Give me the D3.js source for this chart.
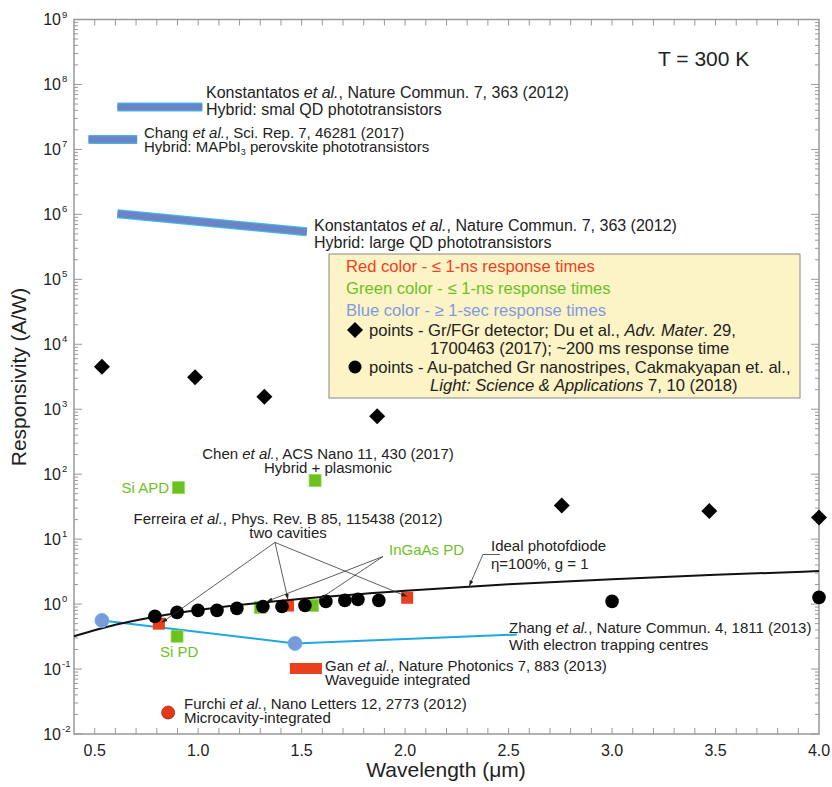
<!DOCTYPE html>
<html>
<meta charset="UTF-8" />
<script src="https://cdn.jsdelivr.net/npm/d3@7/dist/d3.min.js"></script>
<style>
*{margin:0; padding:0;}
body{background:#fff;}
svg text{font-family:Arial,"Liberation Sans",sans-serif; fill:#222;}
</style>
<body>
<div id="chart"></div>
<script>
// ---- data (wavelength in um, responsivity in A/W) ----
var xTickLabels = [0.5, 1.0, 1.5, 2.0, 2.5, 3.0, 3.5, 4.0];
var decades = [-2, -1, 0, 1, 2, 3, 4, 5, 6, 7, 8, 9];

// Du et al. Gr/FGr detector (diamonds)
var duLambda = [0.535, 0.985, 1.32, 1.865, 2.757, 3.47, 4.0];
var duResp   = [4500, 3100, 1550, 780, 33, 27, 21.5];

// Cakmakyapan et al. Au-patched Gr nanostripes (black circles)
var auLambda = [0.791, 0.898, 0.999, 1.091, 1.187, 1.313, 1.405, 1.516, 1.617, 1.709, 1.772, 1.873, 3.0, 4.0];
var auResp   = [0.647, 0.745, 0.80, 0.80, 0.86, 0.92, 0.92, 0.955, 1.10, 1.14, 1.18, 1.14, 1.10, 1.27];

// ideal photodiode, eta = 100 %, g = 1
var idealLambda = [0.4, 0.6, 0.8, 1.0, 1.5, 2.0, 2.5, 3.0, 3.5, 4.0];
var idealResp   = [0.32, 0.48, 0.645, 0.81, 1.21, 1.61, 2.02, 2.42, 2.82, 3.22];

// red squares: Ferreira two cavities
var redLambda = [0.81, 1.434, 2.01];
var redResp   = [0.50, 0.95, 1.25];

// green squares: Si APD, Chen hybrid plasmonic, Si PD, InGaAs PD x2
var greenLambda = [0.905, 1.565, 0.898, 1.30, 1.553];
var greenResp   = [62, 80, 0.32, 0.89, 0.95];

// Zhang et al. (blue circles + line)
var zhangLambda = [0.535, 1.468, 2.54];
var zhangResp   = [0.56, 0.248, 0.34];
var zhangDots   = [0, 1];

// Gan et al. waveguide (red bar)
var ganLambda = [1.443, 1.598];
var ganResp   = [0.102, 0.102];

// Furchi et al. microcavity (red circle)
var furchiLambda = [0.855];
var furchiResp   = [0.0214];

// hybrid phototransistors (blue bands)
var smallQdLambda = [0.61, 1.02];
var smallQdResp   = [4.5e7, 4.5e7];
var changLambda   = [0.47, 0.705];
var changResp     = [1.42e7, 1.42e7];
var largeQdLambda = [0.61, 1.525];
var largeQdResp   = [1.02e6, 5.4e5];

// annotation arrows (from, to) in data units
var ferreiraFrom = [1.371, 8.9];
var ferreiraTo   = [[0.825, 0.52], [1.434, 1.18], [2.009, 1.31]];
var ingaasFrom   = [1.893, 5.4];
var ingaasTo     = [[1.332, 1.1], [1.584, 1.18]];
var idealArrow   = [[2.458, 5.8], [2.376, 5.8], [2.31, 1.9]];

// ---- drawing ----
var W = 832, H = 787;
var svg = d3.select("#chart").append("svg").attr("width", W).attr("height", H);

var x = d3.scaleLinear().domain([0.4, 4.0]).range([74, 819]);
var y = d3.scaleLog().domain([1e-2, 1e9]).range([734, 19.5]);

var RED = "#e8401c", GREEN = "#6cc11e", BLUE = "#7b98d8", CYAN = "#1ea7e0";
var FRAME = "#999";

function pts(xs, ys){ return xs.map(function(v,i){ return [v, ys[i]]; }); }
var line = d3.line().x(function(d){return x(d[0]);}).y(function(d){return y(d[1]);});

// defs: arrow head
svg.append("defs").append("marker")
	.attr("id","arr").attr("viewBox","0 0 10 10").attr("refX",10).attr("refY",5)
	.attr("markerWidth",7).attr("markerHeight",7).attr("orient","auto")
	.append("path").attr("d","M0,1.5L10,5L0,8.5z").attr("fill","#222");

// axes ticks (inward)
var minorX = d3.range(5, 40).map(function(d){return d/10;});
var gAx = svg.append("g").attr("stroke", FRAME).attr("stroke-width", 1);
gAx.selectAll(".xb").data(minorX).enter().append("line")
	.attr("x1", x).attr("x2", x).attr("y1", 734).attr("y2", 728);
gAx.selectAll(".xt").data(minorX).enter().append("line")
	.attr("x1", x).attr("x2", x).attr("y1", 19.5).attr("y2", 25.5);

var minorY = [];
decades.forEach(function(e){
	if (e < 9) for (var m = 2; m <= 9; m++) minorY.push(m * Math.pow(10, e));
});
var majorY = decades.map(function(e){ return Math.pow(10, e); });
gAx.selectAll(".ylm").data(minorY).enter().append("line")
	.attr("x1", 74).attr("x2", 78).attr("y1", y).attr("y2", y);
gAx.selectAll(".yrm").data(minorY).enter().append("line")
	.attr("x1", 819).attr("x2", 815).attr("y1", y).attr("y2", y);
gAx.selectAll(".ylM").data(majorY).enter().append("line")
	.attr("x1", 74).attr("x2", 82).attr("y1", y).attr("y2", y);
gAx.selectAll(".yrM").data(majorY).enter().append("line")
	.attr("x1", 819).attr("x2", 811).attr("y1", y).attr("y2", y);

svg.append("rect").attr("x", 74).attr("y", 19.5).attr("width", 745).attr("height", 714.5)
	.attr("fill", "none").attr("stroke", FRAME).attr("stroke-width", 1.5);

// tick labels
svg.selectAll(".xl").data(xTickLabels).enter().append("text")
	.attr("x", x).attr("y", 756).attr("text-anchor", "middle")
	.style("font-size", "16px").text(function(d){ return d.toFixed(1); });

var yl = svg.selectAll(".yl").data(decades).enter().append("g");
yl.append("text").attr("x", 61).attr("y", function(d){ return y(Math.pow(10,d)) + 5.5; })
	.attr("text-anchor", "end").style("font-size", "16px").text("10");
yl.append("text").attr("x", 62).attr("y", function(d){ return y(Math.pow(10,d)) - 2; })
	.style("font-size", "9.5px").text(function(d){ return d < 0 ? "-" + (-d) : d; });

// axis titles
svg.append("text").attr("x", 446).attr("y", 777).attr("text-anchor", "middle")
	.style("font-size", "21px").text("Wavelength (\u03bcm)");
svg.append("text").attr("transform", "translate(26,377) rotate(-90)").attr("text-anchor", "middle")
	.style("font-size", "21px").text("Responsivity (A/W)");

// hybrid bands
[[smallQdLambda, smallQdResp], [changLambda, changResp], [largeQdLambda, largeQdResp]].forEach(function(b){
	var p = pts(b[0], b[1]);
	svg.append("path").attr("d", line(p)).attr("stroke", "#40b8ea").attr("stroke-width", 9).attr("fill", "none");
	svg.append("path").attr("d", line(p)).attr("stroke", "#6a84c6").attr("stroke-width", 6.5).attr("fill", "none");
});

// Gan bar
svg.append("path").attr("d", line(pts(ganLambda, ganResp)))
	.attr("stroke", RED).attr("stroke-width", 11).attr("fill", "none");

// Zhang line
svg.append("path").attr("d", line(pts(zhangLambda, zhangResp)))
	.attr("stroke", CYAN).attr("stroke-width", 2).attr("fill", "none");

// squares
var sq = 12;
svg.selectAll(".gs").data(pts(greenLambda, greenResp)).enter().append("rect")
	.attr("x", function(d){ return x(d[0]) - sq/2; }).attr("y", function(d){ return y(d[1]) - sq/2; })
	.attr("width", sq).attr("height", sq).attr("fill", GREEN).attr("stroke", "#8fdc5a").attr("stroke-width", 0.8);
svg.selectAll(".rs").data(pts(redLambda, redResp)).enter().append("rect")
	.attr("x", function(d){ return x(d[0]) - sq/2; }).attr("y", function(d){ return y(d[1]) - sq/2; })
	.attr("width", sq).attr("height", sq).attr("fill", RED);

// ideal photodiode line
svg.append("path").attr("d", d3.line().curve(d3.curveMonotoneX).x(function(d){return x(d[0]);}).y(function(d){return y(d[1]);})(pts(idealLambda, idealResp)))
	.attr("stroke", "#111").attr("stroke-width", 2).attr("fill", "none");

// Zhang dots
svg.selectAll(".zd").data(zhangDots).enter().append("circle")
	.attr("cx", function(i){ return x(zhangLambda[i]); }).attr("cy", function(i){ return y(zhangResp[i]); })
	.attr("r", 7).attr("fill", BLUE).attr("stroke", "#5bc0ea").attr("stroke-width", 1);

// Furchi
svg.selectAll(".fc").data(pts(furchiLambda, furchiResp)).enter().append("circle")
	.attr("cx", function(d){ return x(d[0]); }).attr("cy", function(d){ return y(d[1]); })
	.attr("r", 6.5).attr("fill", "#e23a18").attr("stroke", "#a02a10").attr("stroke-width", 0.8);

// black circles
svg.selectAll(".bc").data(pts(auLambda, auResp)).enter().append("circle")
	.attr("cx", function(d){ return x(d[0]); }).attr("cy", function(d){ return y(d[1]); })
	.attr("r", 6.8).attr("fill", "#000");

// diamonds
var diamond = d3.symbol().type(d3.symbolSquare).size(128);
svg.selectAll(".dm").data(pts(duLambda, duResp)).enter().append("path")
	.attr("d", diamond).attr("fill", "#000")
	.attr("transform", function(d){ return "translate(" + x(d[0]) + "," + y(d[1]) + ") rotate(45)"; });

// annotation arrows
var ga = svg.append("g").attr("stroke", "#333").attr("stroke-width", 0.8).attr("fill", "none");
ferreiraTo.forEach(function(t){
	ga.append("path").attr("d", line([ferreiraFrom, t])).attr("marker-end", "url(#arr)");
});
ingaasTo.forEach(function(t){
	ga.append("path").attr("d", line([ingaasFrom, t])).attr("marker-end", "url(#arr)");
});
ga.append("path").attr("d", line(idealArrow)).attr("marker-end", "url(#arr)");

// multi-line rich text: lines = [segs, segs], segs are strings or {t, i, sub, back}
function note(px, py, lines, opt){
	opt = opt || {};
	var gap = opt.gap || 14;
	var t = svg.append("text").attr("x", px).attr("y", py)
		.style("font-size", (opt.size || 15) + "px")
		.attr("text-anchor", opt.anchor || "start");
	if (opt.color) t.style("fill", opt.color);
	lines.forEach(function(segs, li){
		segs.forEach(function(s, si){
			var ts = t.append("tspan");
			if (si === 0) ts.attr("x", px).attr("y", py + li * gap);
			if (typeof s === "string") { ts.text(s); return; }
			ts.text(s.t);
			if (s.i) ts.style("font-style", "italic");
			if (s.sub) ts.style("font-size", "9px").attr("dy", 3);
			if (s.back) ts.attr("dy", -3);
		});
	});
	return t;
}
var etal = {t: "et al.", i: true};

note(206, 98, [["Konstantatos ", etal, ", Nature Commun. 7, 363 (2012)"],
	["Hybrid: smal QD phototransistors"]], {size: 16, gap: 17});
note(144, 138, [["Chang ", etal, ", Sci. Rep. 7, 46281 (2017)"],
	["Hybrid: MAPbI", {t: "3", sub: true}, {t: " perovskite phototransistors", back: true}]]);
note(314, 231, [["Konstantatos ", etal, ", Nature Commun. 7, 363 (2012)"],
	["Hybrid: large QD phototransistors"]], {size: 16, gap: 17});
note(658, 66, [["T = 300 K"]], {size: 21});

note(328, 459, [["Chen ", etal, ", ACS Nano 11, 430 (2017)"], ["Hybrid + plasmonic"]], {anchor: "middle"});
note(169, 493, [["Si APD"]], {anchor: "end", color: GREEN});
note(288, 524, [["Ferreira ", etal, ", Phys. Rev. B 85, 115438 (2012)"], ["two cavities"]], {anchor: "middle"});
note(389, 555, [["InGaAs PD"]], {color: GREEN});
note(491, 551, [["Ideal photofdiode"], ["\u03b7=100%, g = 1"]], {gap: 18});
note(160, 657, [["Si PD"]], {color: GREEN});
note(509, 633, [["Zhang ", etal, ", Nature Commun. 4, 1811 (2013)"], ["With electron trapping centres"]], {gap: 17});
note(325, 671, [["Gan ", etal, ", Nature Photonics 7, 883 (2013)"], ["Waveguide integrated"]]);
note(184, 709, [["Furchi ", etal, ", Nano Letters 12, 2773 (2012)"], ["Microcavity-integrated"]]);

// legend box
var LF = 16.6;
svg.append("rect").attr("x", 329).attr("y", 254).attr("width", 471).attr("height", 144)
	.attr("fill", "#fcf3c6").attr("stroke", "#888").attr("stroke-width", 1);
note(346, 272, [["Red color - \u2264 1-ns response times"]], {size: LF, color: "#f0401e"});
note(346, 294, [["Green color - \u2264 1-ns response times"]], {size: LF, color: GREEN});
note(346, 316, [["Blue color - \u2265 1-sec response times"]], {size: LF, color: "#7f9be0"});
svg.append("path").attr("d", diamond).attr("fill", "#000")
	.attr("transform", "translate(355,330) rotate(45)");
note(369, 336, [["points - Gr/FGr detector; Du et al., ", {t: "Adv. Mater", i: true}, ". 29,"]], {size: LF});
note(430, 354, [["1700463 (2017); ~200 ms response time"]], {size: LF});
svg.append("circle").attr("cx", 355).attr("cy", 367).attr("r", 6.5).attr("fill", "#000");
note(369, 373, [["points - Au-patched Gr nanostripes, Cakmakyapan et. al.,"]], {size: LF});
note(430, 391, [[{t: "Light: Science & Applications", i: true}, " 7, 10 (2018)"]], {size: LF});
</script>
</body>
</html>
